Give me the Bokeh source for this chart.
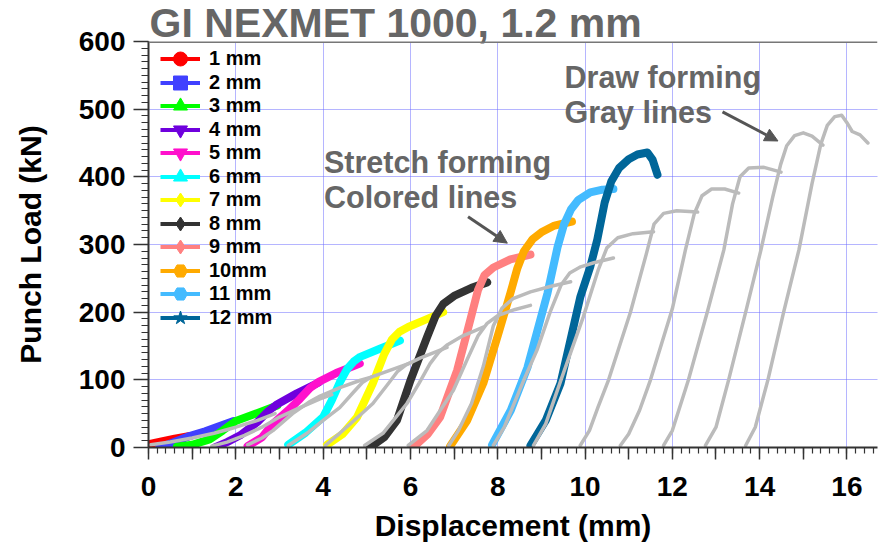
import numpy as np
from bokeh.plotting import figure
from bokeh.models import (Range1d, SingleIntervalTicker, FixedTicker, Legend, LegendItem, Label,
                          Arrow, NormalHead, Span, Title)
from bokeh.embed import file_html
from bokeh.resources import INLINE

# ---------------- data ----------------
title_text = "GI NEXMET 1000, 1.2 mm"
series_labels = ["1 mm", "2 mm", "3 mm", "4 mm", "5 mm", "6 mm", "7 mm", "8 mm",
                 "9 mm", "10mm", "11 mm", "12 mm"]

# stretch forming (colored) curves
c1_x = [0.0, 0.3, 0.6, 0.95]
c1_y = [5, 9, 13, 17]
c2_x = [0.25, 0.5, 0.9, 1.3, 1.6, 1.95]
c2_y = [0, 6, 16, 24, 31, 39]
c3_x = [0.65, 1.0, 1.4, 1.7, 2.0, 2.5, 2.95]
c3_y = [1, 4, 12, 25, 39, 51, 62]
c4_x = [1.52, 1.8, 2.1, 2.5, 2.75, 2.95, 3.4, 3.9]
c4_y = [0, 8, 18, 38, 54, 64, 80, 96]
c5_x = [2.27, 2.6, 2.85, 3.2, 3.47, 3.7, 3.9, 4.3, 4.84]
c5_y = [2, 15, 35, 55, 72, 88, 97, 110, 124]
c6_x = [3.2, 3.6, 4.0, 4.2, 4.38, 4.55, 4.7, 4.85, 5.3, 5.76]
c6_y = [4, 22, 45, 70, 96, 116, 127, 134, 146, 158]
c7_x = [4.09, 4.45, 4.78, 5.14, 5.4, 5.58, 5.75, 5.95, 6.35, 6.75]
c7_y = [4, 20, 45, 95, 138, 160, 171, 178, 189, 200]
c8_x = [5.07, 5.4, 5.69, 6.0, 6.38, 6.58, 6.75, 7.0, 7.4, 7.76]
c8_y = [0, 15, 40, 99, 163, 195, 212, 224, 236, 244]
c9_x = [6.06, 6.4, 6.68, 7.07, 7.37, 7.55, 7.7, 7.9, 8.29, 8.75]
c9_y = [0, 20, 45, 114, 188, 233, 255, 266, 278, 285]
c10_x = [6.91, 7.3, 7.67, 8.0, 8.29, 8.45, 8.6, 8.8, 9.0, 9.3, 9.7]
c10_y = [2, 40, 95, 165, 228, 265, 290, 308, 318, 328, 334]
c11_x = [7.87, 8.3, 8.68, 9.14, 9.37, 9.52, 9.68, 9.85, 10.12, 10.4, 10.65]
c11_y = [4, 55, 118, 228, 296, 330, 352, 366, 377, 381, 382]
c12_x = [8.75, 9.1, 9.44, 9.89, 10.12, 10.28, 10.45, 10.6, 10.78, 11.0, 11.2, 11.43, 11.55, 11.66]
c12_y = [3, 40, 95, 222, 267, 307, 362, 393, 413, 426, 433, 436, 425, 403]

# draw forming (gray) curves
g1_x = [0.05, 0.5, 1.0, 1.5, 2.0, 2.5, 2.9]
g1_y = [4, 8, 14, 21, 30, 40, 50]
g2_x = [1.45, 1.8, 2.2, 2.6, 3.0, 3.47, 3.93, 4.2]
g2_y = [2, 8, 18, 30, 45, 59, 72, 78]
g3_x = [2.27, 2.6, 2.85, 3.3, 3.7, 3.93, 4.4, 4.84, 5.1]
g3_y = [4, 14, 25, 50, 68, 76, 89, 99, 104]
g4_x = [3.2, 3.63, 4.0, 4.38, 4.7, 4.9, 5.1, 5.4, 5.83, 6.0]
g4_y = [3, 21, 40, 59, 82, 96, 104, 111, 121, 125]
g5_x = [4.05, 4.38, 4.8, 5.14, 5.5, 5.7, 5.9, 6.22, 6.84]
g5_y = [3, 21, 45, 65, 95, 112, 122, 132, 148]
g6_x = [4.95, 5.37, 5.92, 6.2, 6.45, 6.65, 6.85, 7.2, 7.67]
g6_y = [3, 21, 65, 95, 124, 141, 152, 165, 178]
g7_x = [5.95, 6.38, 6.98, 7.3, 7.55, 7.75, 8.0, 8.4, 8.75]
g7_y = [3, 25, 84, 130, 165, 183, 195, 204, 210]
g8_x = [6.88, 7.1, 7.4, 7.67, 7.9, 8.1, 8.35, 8.75, 9.2, 9.67]
g8_y = [3, 25, 65, 120, 180, 206, 220, 230, 238, 245]
g9_x = [7.9, 8.15, 8.6, 8.9, 9.2, 9.45, 9.65, 9.9, 10.2, 10.65]
g9_y = [3, 30, 100, 144, 200, 240, 258, 267, 273, 280]
g10_x = [8.82, 9.1, 9.45, 9.96, 10.3, 10.5, 10.75, 11.1, 11.57]
g10_y = [3, 35, 100, 193, 262, 295, 310, 316, 319]
g11_x = [9.89, 10.1, 10.3, 10.54, 11.04, 11.4, 11.58, 11.8, 12.1, 12.58]
g11_y = [3, 25, 60, 100, 200, 285, 330, 346, 350, 348]
g12_x = [10.81, 11.0, 11.25, 11.5, 12.0, 12.3, 12.5, 12.68, 12.9, 13.2, 13.52]
g12_y = [3, 20, 55, 100, 205, 292, 345, 372, 382, 382, 376]
g13_x = [11.8, 12.0, 12.37, 12.8, 13.18, 13.38, 13.55, 13.75, 14.1, 14.49]
g13_y = [3, 25, 100, 200, 292, 360, 400, 413, 414, 407]
g14_x = [12.76, 13.0, 13.29, 13.68, 14.03, 14.3, 14.48, 14.62, 14.8, 15.0, 15.2, 15.45]
g14_y = [3, 30, 100, 200, 292, 370, 418, 446, 461, 465, 460, 447]
g15_x = [13.68, 13.9, 14.19, 14.55, 14.9, 15.2, 15.4, 15.55, 15.72, 15.88, 16.0, 16.12, 16.3, 16.48]
g15_y = [3, 30, 100, 200, 292, 390, 448, 476, 489, 491, 480, 467, 462, 450]

x_ticks = list(range(0, 17))
x_minor_ticks = [round(i * 0.2, 1) for i in range(0, 84)]
x_tick_labels = {t: (str(t) if t % 2 == 0 else "") for t in x_ticks}

colored_x = [c1_x, c2_x, c3_x, c4_x, c5_x, c6_x, c7_x, c8_x, c9_x, c10_x, c11_x, c12_x]
colored_y = [c1_y, c2_y, c3_y, c4_y, c5_y, c6_y, c7_y, c8_y, c9_y, c10_y, c11_y, c12_y]
gray_x = [g1_x, g2_x, g3_x, g4_x, g5_x, g6_x, g7_x, g8_x, g9_x, g10_x, g11_x, g12_x, g13_x, g14_x, g15_x]
gray_y = [g1_y, g2_y, g3_y, g4_y, g5_y, g6_y, g7_y, g8_y, g9_y, g10_y, g11_y, g12_y, g13_y, g14_y, g15_y]

# ---------------- styles ----------------
colors = ["#ff0000", "#4040ff", "#00ff00", "#6f00dd", "#ff10cc", "#00ffff",
          "#ffff00", "#333333", "#ff8080", "#ffaa00", "#44bbff", "#006699"]
markers = ["circle", "square", "triangle", "inverted_triangle", "inverted_triangle", "triangle",
           "diamond", "diamond", "diamond", "hex", "hex", "star"]
marker_angles = [0, 0, 0, 0, 0, -np.pi / 2, np.pi / 2, 0, 0, np.pi / 2, 0, 0]
FONT = "Liberation Sans"

p = figure(width=888, height=552, x_range=Range1d(0, 16.7), y_range=Range1d(0, 600),
           output_backend="svg", toolbar_location=None, title=None,
           min_border_left=148, min_border_right=11, min_border_top=41, min_border_bottom=105)
p.background_fill_color = "white"
p.border_fill_color = "white"
p.outline_line_color = None

# title in its own panel above the frame
p.add_layout(Title(text=title_text, align="left", offset=1, standoff=-8,
                   text_font=FONT, text_font_style="bold", text_font_size="41px",
                   text_color="#666666"), "above")

# axes
p.xaxis.ticker = FixedTicker(ticks=x_ticks, minor_ticks=x_minor_ticks)
p.xaxis.major_label_overrides = x_tick_labels
p.yaxis.ticker = SingleIntervalTicker(interval=100, num_minor_ticks=10)

for ax in (p.xaxis, p.yaxis):
    ax.axis_line_color = "#333333"
    ax.axis_line_width = 2
    ax.major_tick_line_color = "#333333"
    ax.minor_tick_line_color = "#333333"
    ax.major_tick_line_width = 1.5
    ax.minor_tick_line_width = 1.2
    ax.major_tick_in = 0
    ax.minor_tick_in = 0
    ax.major_label_text_font = FONT
    ax.major_label_text_font_style = "bold"
    ax.major_label_text_font_size = "28px"
    ax.major_label_text_color = "black"
    ax.axis_label_text_font = FONT
    ax.axis_label_text_font_style = "bold"
    ax.axis_label_text_font_size = "30px"
    ax.axis_label_text_color = "black"

p.xaxis.major_tick_out = 12
p.xaxis.minor_tick_out = 6
p.yaxis.major_tick_out = 15
p.yaxis.minor_tick_out = 7
p.xaxis.major_label_standoff = 17
p.yaxis.major_label_standoff = 8
p.xaxis.axis_label = "Displacement (mm)"
p.yaxis.axis_label = "Punch Load (kN)"
p.xaxis.axis_label_standoff = 10
p.yaxis.axis_label_standoff = 29

# grid
p.xgrid.ticker = SingleIntervalTicker(interval=2)
p.ygrid.ticker = SingleIntervalTicker(interval=100)
for g in (p.xgrid, p.ygrid):
    g.grid_line_color = "#6b6bff"
    g.grid_line_dash = "1 1"
    g.grid_line_width = 1

# top border
p.add_layout(Span(location=600, dimension="width", line_color="#777777", line_width=3))

# colored curves
for xs, ys, c in zip(colored_x, colored_y, colors):
    p.line(xs, ys, line_color=c, line_width=8, line_cap="round", line_join="round")

# gray curves (drawn on top)
for xs, ys in zip(gray_x, gray_y):
    p.line(xs, ys, line_color="#bbbbbb", line_width=3.5, line_cap="round", line_join="round")

# legend entries (glyph-only renderers, nothing drawn in the plot)
items = []
for lab, c, m, a in zip(series_labels, colors, markers, marker_angles):
    lr = p.line([np.nan], [np.nan], line_color=c, line_width=4)
    sr = p.scatter([np.nan], [np.nan], marker=m, angle=a, fill_color=c, line_color=c)
    items.append(LegendItem(label=lab, renderers=[lr, sr]))

# two interleaved legends, so rows can be closer than the marker box height
leg_style = dict(padding=0, margin=0, spacing=12, glyph_width=40, glyph_height=35,
                 label_height=35, label_standoff=9, border_line_color=None,
                 background_fill_alpha=0, label_text_font=FONT, label_text_font_style="bold",
                 label_text_font_size="20px", label_text_color="black")
p.add_layout(Legend(items=items[0::2], location=(12, 136), **leg_style))
p.add_layout(Legend(items=items[1::2], location=(12, 112), **leg_style))

ann = dict(text_font=FONT, text_font_style="bold", text_font_size="30.5px",
           text_color="#666666", text_baseline="alphabetic")
p.add_layout(Label(x=4.02, y=422, text="Stretch forming", **ann))
p.add_layout(Label(x=4.02, y=370, text="Colored lines", **ann))
p.add_layout(Label(x=9.53, y=548, text="Draw forming", **ann))
p.add_layout(Label(x=9.53, y=496, text="Gray lines", **ann))

head = dict(size=13, fill_color="#555555", line_color="#555555")
p.add_layout(Arrow(x_start=7.32, y_start=341, x_end=8.22, y_end=302,
                   line_color="#555555", line_width=3, end=NormalHead(**head)))
p.add_layout(Arrow(x_start=13.15, y_start=496, x_end=14.42, y_end=453,
                   line_color="#555555", line_width=3, end=NormalHead(**head)))

open("out.html", "w").write(file_html(p, INLINE))
